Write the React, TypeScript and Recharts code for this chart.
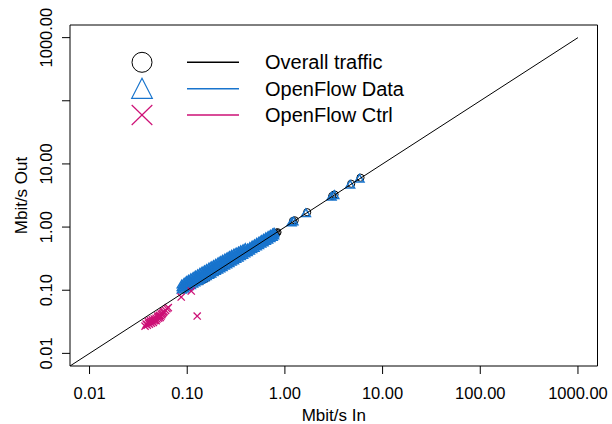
import React from "react";
import {
  ScatterChart,
  Scatter,
  XAxis,
  YAxis,
  ReferenceArea,
  Legend,
} from "recharts";

// axis ticks (log10 scale, 0.01 .. 1000)
const tickValues = [0.01, 0.1, 1, 10, 100, 1000];
const xTickLabels = ["0.01", "0.10", "1.00", "10.00", "100.00", "1000.00"];
// R dropped the 100.00 label on the y axis (overlap)
const yTickLabels = ["0.01", "0.10", "1.00", "10.00", "", "1000.00"];
const axisMin = 0.00631; // 10^-2.2
const axisMax = 1584.9; // 10^3.2

const seriesNames = ["Overall traffic", "OpenFlow Data", "OpenFlow Ctrl"];
const seriesColors = ["#000000", "#1874CD", "#CD1076"];

// y = x reference
const diagonal = [
  { x: 0.00631, y: 0.00631 },
  { x: 1000, y: 1000 },
];

// [Mbit/s in, Mbit/s out]
const overallPoints = [
  [0.14, 0.14], [0.15, 0.149], [0.16, 0.158], [0.17, 0.169], [0.182, 0.18],
  [0.195, 0.193], [0.208, 0.206], [0.222, 0.22], [0.237, 0.235], [0.253, 0.251],
  [0.27, 0.268], [0.288, 0.286], [0.307, 0.305], [0.328, 0.326], [0.35, 0.348],
  [0.373, 0.371], [0.398, 0.396], [0.425, 0.423], [0.453, 0.451], [0.483, 0.482],
  [0.515, 0.514], [0.549, 0.548], [0.586, 0.585], [0.625, 0.624], [0.667, 0.666],
  [0.711, 0.71], [0.758, 0.757], [0.78, 0.76], [0.785, 0.784], [0.79, 0.79],
  [0.82, 0.81], [0.84, 0.83],
  [1.21, 1.25], [1.26, 1.28], [1.69, 1.72], [3.05, 3.1], [3.22, 3.28],
  [4.77, 4.85], [5.94, 6.05],
];

const dataPoints = [
  [0.088, 0.124], [0.088, 0.112], [0.088, 0.102],
  [0.093, 0.132], [0.093, 0.118], [0.093, 0.106],
  [0.098, 0.14], [0.098, 0.124], [0.098, 0.111],
  [0.103, 0.147], [0.103, 0.13], [0.103, 0.116],
  [0.109, 0.155], [0.109, 0.137], [0.109, 0.121],
  [0.115, 0.163], [0.115, 0.144], [0.115, 0.127],
  [0.121, 0.171], [0.121, 0.151], [0.121, 0.133],
  [0.128, 0.18], [0.128, 0.159], [0.128, 0.139],
  [0.135, 0.189], [0.135, 0.167], [0.135, 0.146],
  [0.142, 0.198], [0.142, 0.175], [0.142, 0.153],
  [0.15, 0.208], [0.15, 0.184], [0.15, 0.16],
  [0.158, 0.218], [0.158, 0.193], [0.158, 0.167],
  [0.167, 0.229], [0.167, 0.203], [0.167, 0.175],
  [0.176, 0.24], [0.176, 0.213], [0.176, 0.184],
  [0.186, 0.252], [0.186, 0.224], [0.186, 0.193],
  [0.196, 0.264], [0.196, 0.235], [0.196, 0.202],
  [0.207, 0.277], [0.207, 0.247], [0.207, 0.212],
  [0.218, 0.29], [0.218, 0.259], [0.218, 0.222],
  [0.23, 0.304], [0.23, 0.272], [0.23, 0.233],
  [0.243, 0.319], [0.243, 0.286], [0.243, 0.245],
  [0.256, 0.334], [0.256, 0.3], [0.256, 0.257],
  [0.27, 0.35], [0.27, 0.315], [0.27, 0.27],
  [0.285, 0.367], [0.285, 0.331], [0.285, 0.284],
  [0.301, 0.381], [0.301, 0.342], [0.301, 0.298],
  [0.317, 0.397], [0.317, 0.357], [0.317, 0.313],
  [0.335, 0.413], [0.335, 0.372], [0.335, 0.329],
  [0.353, 0.43], [0.353, 0.388], [0.353, 0.346],
  [0.373, 0.448], [0.373, 0.404], [0.373, 0.364],
  [0.393, 0.466], [0.393, 0.42], [0.393, 0.383],
  [0.415, 0.46], [0.415, 0.428], [0.415, 0.403],
  [0.438, 0.485], [0.438, 0.452], [0.438, 0.424],
  [0.462, 0.51], [0.462, 0.476], [0.462, 0.446],
  [0.488, 0.537], [0.488, 0.503], [0.488, 0.469],
  [0.515, 0.565], [0.515, 0.53], [0.515, 0.493],
  [0.543, 0.594], [0.543, 0.559], [0.543, 0.518],
  [0.573, 0.625], [0.573, 0.59], [0.573, 0.545],
  [0.605, 0.657], [0.605, 0.623], [0.605, 0.573],
  [0.638, 0.69], [0.638, 0.657], [0.638, 0.603],
  [0.673, 0.725], [0.673, 0.693], [0.673, 0.634],
  [0.71, 0.76], [0.71, 0.731], [0.71, 0.667],
  [0.749, 0.795], [0.749, 0.771], [0.749, 0.702],
  [0.775, 0.815], [0.775, 0.795], [0.775, 0.738],
  [1.17, 1.19], [1.22, 1.23], [1.64, 1.66], [3.0, 3.03], [3.2, 3.22],
  [4.65, 4.7], [5.8, 5.85],
];

const ctrlPoints = [
  [0.037, 0.027], [0.038, 0.029], [0.039, 0.028], [0.04, 0.03], [0.04, 0.032],
  [0.041, 0.029], [0.042, 0.031], [0.042, 0.033], [0.043, 0.03], [0.044, 0.032],
  [0.044, 0.034], [0.045, 0.031], [0.046, 0.033], [0.046, 0.035], [0.047, 0.034],
  [0.048, 0.036], [0.048, 0.033], [0.049, 0.035], [0.05, 0.037], [0.05, 0.039],
  [0.051, 0.036], [0.052, 0.038], [0.052, 0.04], [0.053, 0.037], [0.054, 0.039],
  [0.054, 0.042], [0.055, 0.041], [0.056, 0.043], [0.057, 0.045], [0.058, 0.046],
  [0.06, 0.048], [0.062, 0.051], [0.064, 0.053],
  [0.0868, 0.078], [0.11, 0.097], [0.1265, 0.039],
];

const toXY = (pts: number[][]) => pts.map(([x, y]) => ({ x, y }));

const FONT = "'Liberation Sans', Arial, Helvetica, sans-serif";

const CircleMark = (p: any) => (
  <circle cx={p.cx} cy={p.cy} r={3.6} fill="none" stroke="#000" strokeWidth={1} />
);

const TriangleMark = (p: any) => {
  const { cx, cy } = p;
  return (
    <polygon
      points={`${cx - 4.5},${cy + 3.4} ${cx + 4.5},${cy + 3.4} ${cx},${cy - 4.2}`}
      fill="none"
      stroke={seriesColors[1]}
      strokeWidth={1.5}
    />
  );
};

const CrossMark = (p: any) => {
  const { cx, cy } = p;
  const s = 3.6;
  return (
    <g stroke={seriesColors[2]} strokeWidth={1.3}>
      <line x1={cx - s} y1={cy - s} x2={cx + s} y2={cy + s} />
      <line x1={cx - s} y1={cy + s} x2={cx + s} y2={cy - s} />
    </g>
  );
};

const NoMark = () => <g />;

const XTick = ({ x, y, payload, index }: any) => (
  <text x={x} y={y} dy={25} textAnchor="middle" fontSize={16.5} fontFamily={FONT} fill="#000">
    {xTickLabels[index] ?? payload.value}
  </text>
);

const YTick = ({ x, y, index }: any) => (
  <text
    x={x - 10}
    y={y}
    textAnchor="middle"
    fontSize={16.5}
    fontFamily={FONT}
    fill="#000"
    transform={`rotate(-90, ${x - 10}, ${y})`}
  >
    {yTickLabels[index]}
  </text>
);

const LegendBox = () => {
  const rows = [62.3, 88.7, 115];
  return (
    <svg width={612} height={140} style={{ display: "block" }}>
      <circle cx={142} cy={rows[0]} r={10} fill="none" stroke="#000" strokeWidth={1} />
      <polygon
        points={`131.7,98.3 152.3,98.3 142,78.3`}
        fill="none"
        stroke={seriesColors[1]}
        strokeWidth={1.2}
      />
      <g stroke={seriesColors[2]} strokeWidth={1.2}>
        <line x1={131.7} y1={105} x2={152.3} y2={125} />
        <line x1={131.7} y1={125} x2={152.3} y2={105} />
      </g>
      {seriesNames.map((name, i) => (
        <g key={name}>
          <line x1={187} x2={239} y1={rows[i]} y2={rows[i]} stroke={seriesColors[i]} strokeWidth={1.6} />
          <text x={265} y={rows[i] + 7} fontSize={20} fontFamily={FONT} fill="#000">
            {name}
          </text>
        </g>
      ))}
    </svg>
  );
};

export default function App() {
  return (
    <div style={{ position: "absolute", left: 0, top: 0, width: 612, height: 424, background: "#fff" }}>
      <ScatterChart width={612} height={424} margin={{ top: 25, right: 14.5, bottom: 0, left: 0 }}>
        <XAxis
          type="number"
          dataKey="x"
          scale="log"
          domain={[axisMin, axisMax]}
          allowDataOverflow
          ticks={tickValues}
          tick={<XTick />}
          tickSize={8}
          tickMargin={0}
          height={58}
          axisLine={false}
          tickLine={{ stroke: "#000" }}
          label={{
            content: ({ viewBox }: any) => (
              <text
                x={viewBox.x + viewBox.width / 2}
                y={viewBox.y + 55}
                textAnchor="middle"
                fontSize={17}
                fontFamily={FONT}
                fill="#000"
              >
                Mbit/s In
              </text>
            ),
          }}
        />
        <YAxis
          type="number"
          dataKey="y"
          scale="log"
          domain={[axisMin, axisMax]}
          allowDataOverflow
          ticks={tickValues}
          tick={<YTick />}
          tickSize={8}
          tickMargin={0}
          width={70}
          axisLine={false}
          tickLine={{ stroke: "#000" }}
          label={{
            content: ({ viewBox }: any) => {
              const cx = viewBox.x + 27;
              const cy = viewBox.y + viewBox.height / 2;
              return (
                <text
                  x={cx}
                  y={cy}
                  textAnchor="middle"
                  fontSize={17}
                  fontFamily={FONT}
                  fill="#000"
                  transform={`rotate(-90, ${cx}, ${cy})`}
                >
                  Mbit/s Out
                </text>
              );
            },
          }}
        />
        <ReferenceArea
          x1={axisMin}
          x2={axisMax}
          y1={axisMin}
          y2={axisMax}
          fill="none"
          stroke="#000"
          strokeWidth={1}
          ifOverflow="visible"
        />
        <Scatter data={toXY(overallPoints)} shape={<CircleMark />} isAnimationActive={false} />
        <Scatter data={toXY(dataPoints)} shape={<TriangleMark />} isAnimationActive={false} />
        <Scatter data={toXY(ctrlPoints)} shape={<CrossMark />} isAnimationActive={false} />
        <Scatter
          data={diagonal}
          line={{ stroke: "#000", strokeWidth: 1 }}
          shape={<NoMark />}
          isAnimationActive={false}
          legendType="none"
        />
        <Legend
          layout="horizontal"
          verticalAlign="middle"
          align="center"
          content={<LegendBox />}
          wrapperStyle={{ left: 0, top: 0, width: 612, height: 140 }}
        />
      </ScatterChart>
    </div>
  );
}
